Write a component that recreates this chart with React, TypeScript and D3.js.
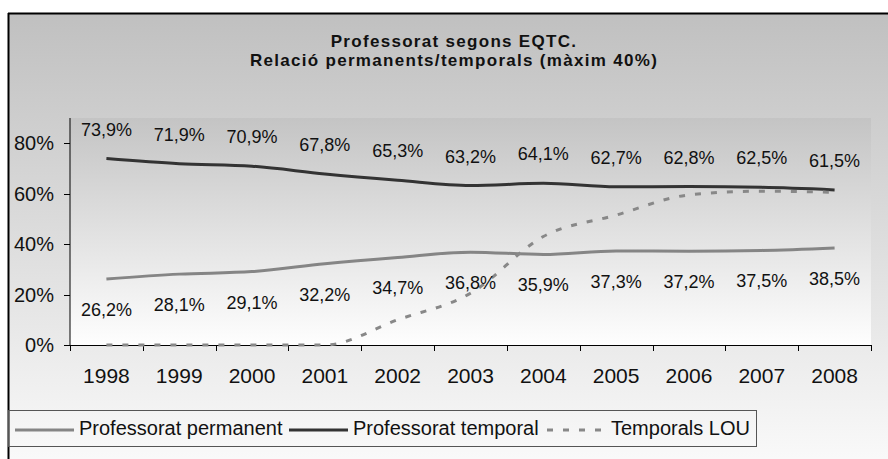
import React from "react";
import * as d3 from "d3";

const years = ["1998", "1999", "2000", "2001", "2002", "2003", "2004", "2005", "2006", "2007", "2008"];
const permanent = [26.2, 28.1, 29.1, 32.2, 34.7, 36.8, 35.9, 37.3, 37.2, 37.5, 38.5];
const temporal = [73.9, 71.9, 70.9, 67.8, 65.3, 63.2, 64.1, 62.7, 62.8, 62.5, 61.5];
const temporalsLOU = [0, 0, 0, 0, 10, 20.5, 43, 51.5, 59.5, 61, 60.5];
const yTicks = [0, 20, 40, 60, 80];
const titleLines = ["Professorat segons EQTC.", "Relació permanents/temporals (màxim 40%)"];
const seriesNames = ["Professorat permanent", "Professorat temporal", "Temporals LOU"];

const FONT = "'Liberation Sans', Arial, sans-serif";

export default function App() {
  const x = d3.scaleBand<string>().domain(years).range([70, 871]).paddingInner(0).paddingOuter(0);
  const y = d3.scaleLinear().domain([0, 90]).range([345, 118]);
  const cx = (d: string) => (x(d) as number) + x.bandwidth() / 2;

  const line = d3
    .line<number>()
    .x((_, i) => cx(years[i]))
    .y((v) => y(v))
    .curve(d3.curveMonotoneX);

  const fmt = (v: number) => v.toFixed(1).replace(".", ",") + "%";
  const boundaries = d3.range(years.length + 1).map((i) => 70 + i * x.bandwidth());

  const legendItems = [
    { name: seriesNames[0], color: "#858585", dash: undefined as string | undefined, x0: 15, tx: 79 },
    { name: seriesNames[1], color: "#333333", dash: undefined as string | undefined, x0: 289, tx: 353 },
    { name: seriesNames[2], color: "#888888", dash: "6,10", x0: 547, tx: 611 },
  ];

  return (
    <svg
      width={888}
      height={459}
      style={{ position: "absolute", left: 0, top: 0, display: "block" }}
      fontFamily={FONT}
    >
      <defs>
        <linearGradient id="outerGrad" x1="0" y1="0" x2="0" y2="1">
          <stop offset="0%" stopColor="#c0c0c0" />
          <stop offset="100%" stopColor="#fbfbfb" />
        </linearGradient>
        <linearGradient id="plotGrad" x1="0" y1="0" x2="0" y2="1">
          <stop offset="0%" stopColor="#c4c4c4" />
          <stop offset="100%" stopColor="#fefefe" />
        </linearGradient>
      </defs>
      <rect x={0} y={0} width={888} height={459} fill="#ffffff" />
      {/* chart frame */}
      <rect x={9} y={14} width={900} height={460} fill="url(#outerGrad)" />
      <line x1={8} y1={13.5} x2={888} y2={13.5} stroke="#000" strokeWidth={2} />
      <line x1={8.5} y1={13} x2={8.5} y2={459} stroke="#000" strokeWidth={2} />

      {/* title */}
      {titleLines.map((t, i) => (
        <text
          key={i}
          x={454}
          y={47 + i * 19}
          textAnchor="middle"
          fontSize={17}
          fontWeight="bold"
          letterSpacing={1.3}
          fill="#111"
        >
          {t}
        </text>
      ))}

      {/* plot area */}
      <rect x={70} y={118} width={801} height={227} fill="url(#plotGrad)" />

      {/* axes */}
      <line x1={70} y1={118} x2={70} y2={345.5} stroke="#000" strokeWidth={1} />
      <line x1={70} y1={345.5} x2={871} y2={345.5} stroke="#000" strokeWidth={1} />
      {yTicks.map((t) => (
        <g key={t}>
          <line x1={64} x2={70} y1={Math.round(y(t)) + 0.5} y2={Math.round(y(t)) + 0.5} stroke="#000" />
          <text x={54} y={y(t) + 7} textAnchor="end" fontSize={20} fill="#111">
            {t + "%"}
          </text>
        </g>
      ))}
      {boundaries.map((bx, i) => (
        <line key={i} x1={Math.round(bx) + 0.5} x2={Math.round(bx) + 0.5} y1={345} y2={351} stroke="#000" />
      ))}
      {years.map((yr) => (
        <text key={yr} x={cx(yr)} y={383} textAnchor="middle" fontSize={21} fill="#111">
          {yr}
        </text>
      ))}

      {/* series */}
      <path d={line(permanent) || ""} fill="none" stroke="#858585" strokeWidth={3} />
      <path d={line(temporal) || ""} fill="none" stroke="#333333" strokeWidth={3} />
      <path d={line(temporalsLOU) || ""} fill="none" stroke="#888888" strokeWidth={3} strokeDasharray="6,10" />

      {/* labels */}
      {temporal.map((v, i) => (
        <text key={"t" + i} x={cx(years[i])} y={y(v) - 23} textAnchor="middle" fontSize={18} fill="#111">
          {fmt(v)}
        </text>
      ))}
      {permanent.map((v, i) => (
        <text key={"p" + i} x={cx(years[i])} y={y(v) + 37} textAnchor="middle" fontSize={18} fill="#111">
          {fmt(v)}
        </text>
      ))}

      {/* legend */}
      <rect x={8.5} y={410.5} width={748} height={36} fill="none" stroke="#555" strokeWidth={1} />
      {legendItems.map((it) => (
        <g key={it.name}>
          <line
            x1={it.x0}
            x2={it.x0 + 59}
            y1={430}
            y2={430}
            stroke={it.color}
            strokeWidth={3}
            strokeDasharray={it.dash}
          />
          <text x={it.tx} y={435} fontSize={20} fill="#111">
            {it.name}
          </text>
        </g>
      ))}
    </svg>
  );
}
